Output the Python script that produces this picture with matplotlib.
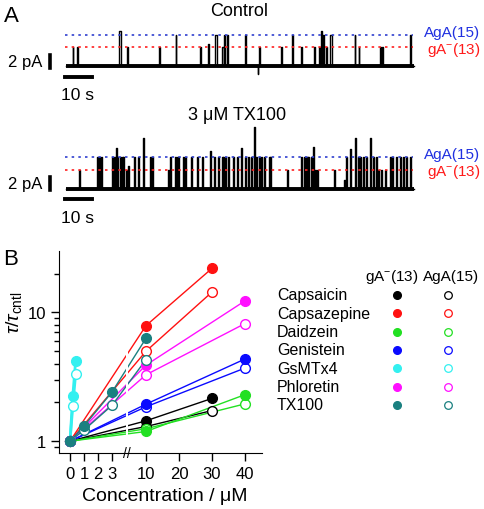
import numpy as np
import matplotlib
matplotlib.use('Agg')
import matplotlib.pyplot as plt

plt.rcParams['font.family'] = ['Liberation Sans', 'DejaVu Sans']
plt.rcParams['mathtext.fontset'] = 'custom'
plt.rcParams['mathtext.rm'] = 'Liberation Sans'
plt.rcParams['mathtext.it'] = 'Liberation Sans:italic'

# ---- panel A: single channel events (start s, duration s, amplitude pA)
gA = 2.9    # gA-(13) level
AgA = 4.8   # AgA(15) level
trace_len = 129.0

ctrl_start = [2.5, 4.2, 19.7, 22.5, 34.4, 40.6, 49.6, 52.5, 55.2, 57.7, 58.6, 59.5,
              66.2, 71.0, 71.4, 79.7, 83.7, 87.1, 91.9, 93.7, 94.3, 95.2, 96.2, 97.7,
              106.9, 108.4, 116.2, 117.0, 127.3]
ctrl_dur = [.25, .25, .7, .3, .3, .3, .3, .3, .7, .8, .4, .4,
            .3, .2, .3, .3, .3, .3, .3, .5, .6, .4, .3, .8,
            .3, .3, .3, .3, .5]
ctrl_amp = [gA, gA, 5.5, gA, gA, AgA, gA, 3.5, AgA, gA, AgA, AgA,
            AgA, -1.2, gA, gA, AgA, gA, gA, gA, 5.5, AgA, gA, AgA,
            AgA, gA, gA, gA, AgA]

tx_start = [4.8, 11.6, 12.3, 13.0, 17.0, 17.7, 18.4, 19.0, 20.0, 20.6, 21.2, 22.1,
            23.1, 25.2, 26.8, 28.6, 31.1, 31.7, 37.9, 38.5, 40.4, 41.0, 41.6, 43.4,
            44.1, 46.2, 48.4, 50.3, 53.3, 54.8, 56.2, 57.7, 58.3, 58.9, 60.1, 62.0,
            63.2, 64.7, 66.4, 67.4, 68.6, 69.6, 70.5, 71.4, 72.1, 73.3, 75.1, 75.7,
            82.0, 87.1, 88.0, 88.6, 89.2, 89.8, 90.6, 91.5, 92.3, 93.1, 99.3, 103.0,
            103.8, 105.1, 106.9, 108.1, 108.8, 110.0, 111.2, 112.5, 113.7, 114.9, 115.6,
            116.8, 118.0, 119.9, 120.9, 122.3, 123.6, 124.8, 126.0, 127.3]
tx_amp = [gA, AgA, AgA, AgA, AgA, AgA, 6.2, AgA, AgA, AgA, AgA, gA,
          3.5, AgA, AgA, 7.7, AgA, AgA, gA, AgA, AgA, AgA, AgA, AgA,
          AgA, AgA, AgA, AgA, 5.8, AgA, AgA, AgA, AgA, AgA, AgA, AgA,
          AgA, 6.2, AgA, AgA, AgA, 9.5, AgA, AgA, AgA, AgA, AgA, AgA,
          gA, AgA, AgA, AgA, AgA, AgA, AgA, 6.4, gA, gA, gA, 1.3,
          AgA, 6.1, 7.7, AgA, AgA, AgA, AgA, 7.8, AgA, AgA, gA,
          gA, gA, AgA, AgA, AgA, AgA, AgA, AgA, AgA]
tx_dur = [0.35] * len(tx_start)

# ---- panel B: tau / tau_cntl vs concentration (uM)
names = ['Capsaicin', 'Capsazepine', 'Daidzein', 'Genistein', 'GsMTx4', 'Phloretin', 'TX100']
colors = ['black', '#ff1111', '#22e022', '#0a0aff', '#33f0f0', '#ff10ff', '#1a8080']
conc = [[0, 10, 30], [0, 10, 30], [0, 10, 40], [0, 10, 40], [0, 0.2, 0.4], [0, 10, 40], [0, 1, 3, 10]]
ratio_gA = [[1, 1.44, 2.15], [1, 7.9, 22.0], [1, 1.19, 2.3], [1, 1.94, 4.35],
            [1, 2.26, 4.17], [1, 3.9, 12.3], [1, 1.31, 2.41, 6.3]]
ratio_AgA = [[1, 1.3, 1.73], [1, 5.0, 14.4], [1, 1.25, 1.95], [1, 1.85, 3.7],
             [1, 1.88, 3.32], [1, 3.28, 8.2], [1, 1.22, 1.9, 4.3]]
xticks = [0, 1, 2, 3, 10, 20, 30, 40]


def build_trace(start, dur, amp):
    t, y = [0.0], [0.0]
    for s, d, a in sorted(zip(start, dur, amp)):
        t += [s, s, s + d, s + d]
        y += [0, a, a, 0]
    t.append(trace_len)
    y.append(0)
    return np.array(t), np.array(y)


fig = plt.figure(figsize=(4.84, 5.10), dpi=100)


def fy(py):
    return 1 - py / 510


def trace_axes(top, bottom, base, start, dur, amp):
    ax = fig.add_axes([0, fy(bottom), 1, (bottom - top) / 510])
    ax.set_xlim(-66 / 2.7, 418 / 2.7)
    ax.set_ylim((base - bottom) / 6.5, (base - top) / 6.5)
    ax.axis('off')
    t, y = build_trace(start, dur, amp)
    ax.plot([0, trace_len], [0, 0], color='black', lw=2.8, solid_capstyle='butt')
    ax.plot(t, y, color='black', lw=1.0)
    ax.plot([-0.3, 128.5], [AgA, AgA], color='#3040d0', ls=(0, (1.5, 2.5)), lw=1.2)
    ax.plot([-0.3, 128.5], [gA, gA], color='#ff2020', ls=(0, (1.5, 2.5)), lw=1.2)
    ax.text(153.5, 5.3, 'AgA(15)', color='#2030e0', ha='right', va='center', fontsize=11)
    ax.text(153.5, 2.7, 'gA$^{-}$(13)', color='#ff1a1a', ha='right', va='center', fontsize=11)
    # scale bars 2 pA / 10 s
    ax.plot([-5.9, -5.9], [-0.3, 1.7], color='black', lw=2.6, clip_on=False)
    ax.plot([-0.4, 9.6], [-1.6, -1.6], color='black', lw=2.8, clip_on=False)
    ax.text(-8.8, 0.7, '2 pA', ha='right', va='center', fontsize=12)
    ax.text(4.4, -4.4, '10 s', ha='center', va='center', fontsize=12.5)
    return ax


trace_axes(18, 105, 67.3, ctrl_start, ctrl_dur, ctrl_amp)
trace_axes(118, 228, 189.5, tx_start, tx_dur, tx_amp)
fig.text(239 / 484, fy(11), 'Control', ha='center', va='center', fontsize=13)
fig.text(237 / 484, fy(116), '3 μM TX100', ha='center', va='center', fontsize=13)
fig.text(4 / 484, fy(16), 'A', ha='left', va='center', fontsize=16)
fig.text(3 / 484, fy(260), 'B', ha='left', va='center', fontsize=16)


# ---- panel B axes with broken x scale
def fwd(c):
    c = np.asarray(c, float)
    return np.where(c <= 3, 14 * c, np.where(c < 10, 42 + (c - 3) * 34 / 7, 76 + (c - 10) * 3.3))


def inv(p):
    p = np.asarray(p, float)
    return np.where(p <= 42, p / 14, np.where(p < 76, 3 + (p - 42) * 7 / 34, 10 + (p - 76) / 3.3))


ax = fig.add_axes([59 / 484, fy(454), 203 / 484, 202 / 510])
ax.set_xscale('function', functions=(fwd, inv))
ax.set_yscale('log')
ax.set_xlim(-0.786, 45.15)
ax.set_ylim(0.81, 30)

for i in range(len(names)):
    lw = 2.0 if names[i] == 'GsMTx4' else 1.0
    ax.plot(conc[i], ratio_AgA[i], color=colors[i], lw=lw, zorder=2)
    ax.plot(conc[i], ratio_gA[i], color=colors[i], lw=lw, zorder=2)
for i in range(len(names)):
    ax.plot(conc[i], ratio_AgA[i], ls='none', marker='o', ms=7, mfc='white',
            mec=colors[i], mew=1.0, zorder=3)
    ax.plot(conc[i], ratio_gA[i], ls='none', marker='o', ms=7, mfc=colors[i],
            mec=colors[i], mew=1.0, zorder=3)

# gap in the lines at the axis break
ax.fill_between([5.85, 6.35], 1.08, 35, color='white', lw=0, zorder=2.5)
ax.text(6.1, 0, '//', transform=ax.get_xaxis_transform(), ha='center', va='center',
        fontsize=10, zorder=5, clip_on=False)

ax.set_xticks(xticks)
ax.set_xticklabels([str(v) for v in xticks])
ax.xaxis.set_minor_locator(matplotlib.ticker.NullLocator())
ax.set_yticks([1, 10])
ax.set_yticklabels(['1', '10'])
ax.set_yticks([0.9, 2, 3, 4, 5, 6, 7, 8, 9, 20], minor=True)
ax.yaxis.set_minor_formatter(matplotlib.ticker.NullFormatter())
ax.tick_params(axis='both', which='major', direction='out', length=6, width=1, labelsize=12)
ax.tick_params(axis='y', which='minor', direction='out', length=3.5, width=1)
for s in ['top', 'right']:
    ax.spines[s].set_visible(False)
ax.set_xlabel('Concentration / μM', fontsize=14)
ax.xaxis.set_label_coords(0.52, -0.17)
ax.set_ylabel(r'$\tau/\tau_{\rm cntl}$', fontsize=14)
ax.yaxis.set_label_coords(-0.17, 0.70)

# ---- legend
lax = fig.add_axes([0, 0, 1, 1], zorder=-1)
lax.set_xlim(0, 484)
lax.set_ylim(510, 0)
lax.axis('off')
lax.text(392, 277, 'gA$^{-}$(13)', ha='center', va='center', fontsize=11)
lax.text(451, 277, 'AgA(15)', ha='center', va='center', fontsize=11)
for i in range(len(names)):
    yy = 296 + 18.3 * i
    lax.text(277, yy, names[i], ha='left', va='center', fontsize=11.5)
    lax.plot([397], [yy], marker='o', ms=5.5, mfc=colors[i], mec=colors[i], ls='none')
    lax.plot([448], [yy], marker='o', ms=5.5, mfc='white', mec=colors[i], mew=0.9, ls='none')

fig.savefig('out.png', dpi=100)
